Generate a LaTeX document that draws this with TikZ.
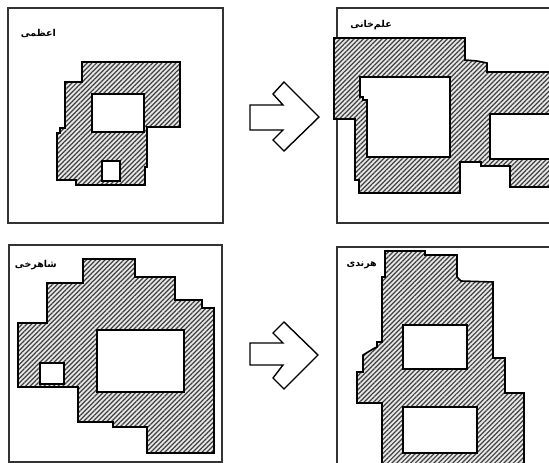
\documentclass[tikz,border=0pt]{standalone}
\usepackage{fontspec}
\newfontfamily\arabicfont[Script=Arabic]{DejaVu Sans}
\TeXXeTstate=1
\usetikzlibrary{patterns.meta}
\begin{document}
\begin{tikzpicture}[
        x=1pt, y=-1pt,
        panel/.style={draw=black!80, line width=1.8pt},
        plan/.style={draw=black, line width=1.6pt, even odd rule,
            preaction={fill=gray!18, even odd rule},
            pattern={Lines[angle=45, distance=3.3pt, line width=1.2pt]},
            pattern color=black!75},
        blockarrow/.style={draw=black, line width=1.4pt, line join=miter, fill=white},
        planname/.style={anchor=east, inner sep=0pt, font=\fontsize{9.5}{11}\selectfont\arabicfont\bfseries}
    ]
    \useasboundingbox (0,0) rectangle (549,463);
    \clip (0,0) rectangle (549,463);
    % frames
    \draw[panel] (8,8) rectangle (223,223);
    \draw[panel] (337,8) rectangle (570,223);
    \draw[panel] (9,245) rectangle (222,462);
    \draw[panel] (337,247) rectangle (570,480);
    % top left
    \draw[plan] (82,62) -- (180,62) -- (180,127) -- (147,127) -- (147,167) -- (145,167)
        -- (145,185) -- (76,185) -- (76,180) -- (57,180) -- (57,133) -- (60,133)
        -- (60,128) -- (65,128) -- (65,82) -- (82,82) -- cycle
        (92,94) rectangle (144,132)
        (102,161) rectangle (120,181);
    % top right
    \draw[plan] (334,38) -- (465,38) -- (465,60) -- (477,61) -- (487,63) -- (487,72)
        -- (570,72) -- (570,187) -- (510,187) -- (510,166) -- (481,166) -- (481,162)
        -- (460,162) -- (460,193) -- (359,193) -- (359,180) -- (355,180) -- (355,119)
        -- (334,119) -- cycle
        (360,77) -- (450,77) -- (450,157) -- (367,157) -- (367,100) -- (363,100)
        -- (363,97) -- (360,97) -- cycle
        (490,114) rectangle (570,159);
    % bottom left
    \draw[plan] (83,259) -- (135,259) -- (135,277) -- (175,277) -- (175,300) -- (202,300)
        -- (202,308) -- (214,308) -- (214,453) -- (147,453) -- (147,427) -- (113,427)
        -- (113,422) -- (78,422) -- (78,387) -- (18,387) -- (18,323) -- (47,323)
        -- (47,283) -- (83,283) -- cycle
        (97,330) rectangle (184,392)
        (40,363) rectangle (64,384);
    % bottom right
    \draw[plan] (385,251) -- (425,251) -- (425,255) -- (457,255) -- (457,277) -- (461,281)
        -- (493,282) -- (493,358) -- (505,358) -- (505,393) -- (524,393) -- (524,480)
        -- (382,480) -- (382,403) -- (357,403) -- (357,372) -- (363,372) -- (363,355)
        -- (373,349) -- (377,347) -- (377,342) -- (382,342) -- (382,277) -- (385,277) -- cycle
        (403,325) rectangle (467,369)
        (403,407) rectangle (477,453);
    % arrows
    \draw[blockarrow] (250,105) -- (283,105) -- (273,94) -- (284,82) -- (319,117)
        -- (284,151) -- (273,140) -- (283,130) -- (250,130) -- cycle;
    \draw[blockarrow] (250,343) -- (283,343) -- (273,333) -- (284,322) -- (318,355)
        -- (284,389) -- (273,378) -- (283,365) -- (250,365) -- cycle;
    % names
    \node[planname] (azami) at (56,33) {\beginR اعظمی\endR};
    \node[planname] (elmkhani) at (392,25) {\beginR علم\char"200C خانی\endR};
    \node[planname] (shahrokhi) at (57,265) {\beginR شاهرخی\endR};
    \node[planname] (harandi) at (377,265) {\beginR هرندی\endR};
\end{tikzpicture}
\end{document}
